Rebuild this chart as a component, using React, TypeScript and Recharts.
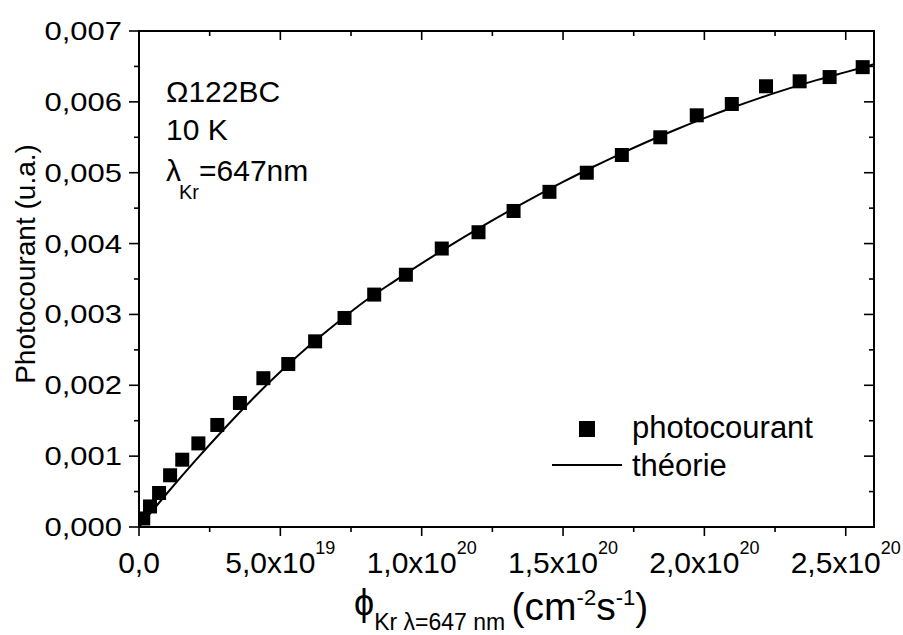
import React from 'react';
import {
    ComposedChart,
    Line,
    Scatter,
    XAxis,
    YAxis,
    ReferenceArea,
    Customized
} from 'recharts';

// x values are in units of 1e19 cm^-2 s^-1
const fluxPoints = [0.15, 0.39, 0.71, 1.10, 1.53, 2.10, 2.77, 3.57, 4.40, 5.28, 6.23, 7.27, 8.32, 9.44, 10.71, 12.01, 13.25, 14.52, 15.84, 17.08, 18.44, 19.73, 20.97, 22.18, 23.37, 24.43, 25.60];
const photocourant = [0.00012, 0.00029, 0.00048, 0.00073, 0.00095, 0.00118, 0.00144, 0.00175, 0.00210, 0.00230, 0.00262, 0.00295, 0.00328, 0.00356, 0.00393, 0.00416, 0.00446, 0.00473, 0.00500, 0.00525, 0.00550, 0.00581, 0.00597, 0.00622, 0.00629, 0.00635, 0.00649];

const fluxTheory = [0, 1, 2, 3, 4, 5, 6, 7, 8, 9, 10, 11, 12, 13, 14, 15, 16, 17, 18, 19, 20, 21, 22, 23, 24, 25, 26];
const theorie = [0, 0.00048, 0.00094, 0.00138, 0.00180, 0.00219, 0.00255, 0.00288, 0.00319, 0.00346, 0.00372, 0.00397, 0.00421, 0.00444, 0.00466, 0.00487, 0.00507, 0.00526, 0.00544, 0.00561, 0.00577, 0.00592, 0.00606, 0.00619, 0.00631, 0.00642, 0.00653];

const xTicks = [0, 2.5, 5, 7.5, 10, 12.5, 15, 17.5, 20, 22.5, 25];
const xTickMantissa = ['0,0', '', '5,0x10', '', '1,0x10', '', '1,5x10', '', '2,0x10', '', '2,5x10'];
const xTickExponent = ['', '', '19', '', '20', '', '20', '', '20', '', '20'];

const yTicks = [0, 0.0005, 0.001, 0.0015, 0.002, 0.0025, 0.003, 0.0035, 0.004, 0.0045, 0.005, 0.0055, 0.006, 0.0065, 0.007];
const yTickLabels = ['0,000', '', '0,001', '', '0,002', '', '0,003', '', '0,004', '', '0,005', '', '0,006', '', '0,007'];

const W = 903;
const H = 635;
const M = { top: 31, right: 29, bottom: 0, left: 0 };
const Y_AXIS_W = 139;
const X_AXIS_H = 108;
const PLOT_TOP = M.top;
const PLOT_RIGHT = W - M.right;
const FONT = 'Liberation Sans, Arial, sans-serif';

const pointData = fluxPoints.map((x, i) => ({ x, y: photocourant[i] }));
const theoryData = fluxTheory.map((x, i) => ({ x, y: theorie[i] }));

const XTick = (props: any) => {
    const { x, y, index } = props;
    const major = index % 2 === 0;
    const len = major ? 9 : 5;
    return (
        <g>
            <line x1={x} y1={y} x2={x} y2={y + len} stroke="#000" strokeWidth={1.6} />
            <line x1={x} y1={PLOT_TOP} x2={x} y2={PLOT_TOP + len} stroke="#000" strokeWidth={1.6} />
            {major && (
                <text x={x} y={y + 46} textAnchor="middle" fontSize={30} fontFamily={FONT} fill="#000">
                    <tspan>{xTickMantissa[index]}</tspan>
                    {xTickExponent[index] && (
                        <tspan dy={-19} fontSize={18}>{xTickExponent[index]}</tspan>
                    )}
                </text>
            )}
        </g>
    );
};

const YTick = (props: any) => {
    const { x, y, index } = props;
    const major = index % 2 === 0;
    const len = major ? 10 : 5;
    return (
        <g>
            <line x1={x - len} y1={y} x2={x} y2={y} stroke="#000" strokeWidth={1.6} />
            <line x1={PLOT_RIGHT - len} y1={y} x2={PLOT_RIGHT} y2={y} stroke="#000" strokeWidth={1.6} />
            {major && (
                <g transform={`translate(${x - 17},${y + 9}) scale(1,0.83)`}>
                    <text x={0} y={0} textAnchor="end" fontSize={31} fontFamily={FONT} fill="#000">
                        {yTickLabels[index]}
                    </text>
                </g>
            )}
        </g>
    );
};

const Square = (props: any) => {
    const { cx, cy } = props;
    return <rect x={cx - 7} y={cy - 7} width={14} height={14} fill="#000" />;
};

const Decorations = () => (
    <g fontFamily={FONT} fill="#000">
        {/* sample notes */}
        <text x={166} y={102} fontSize={30}>Ω122BC</text>
        <text x={166} y={140} fontSize={30}>10 K</text>
        <text x={166} y={181} fontSize={30}>
            λ<tspan dx={-2} dy={18} fontSize={20}>Kr</tspan><tspan dy={-18}>=647nm</tspan>
        </text>

        {/* legend */}
        <rect x={579} y={421} width={16} height={16} fill="#000" />
        <text x={632} y={438} fontSize={31}>photocourant</text>
        <line x1={552} y1={465} x2={622} y2={465} stroke="#000" strokeWidth={2} />
        <text x={632} y={476} fontSize={31}>théorie</text>

        {/* axis titles */}
        <text x={25} y={264} fontSize={28} textAnchor="middle" transform="rotate(-90, 25, 264)" dominantBaseline="central">
            Photocourant (u.a.)
        </text>
        <text x={354} y={615} fontSize={36}>
            ϕ<tspan fontSize={23} dy={15}>Kr λ=647 nm </tspan>
            <tspan fontSize={39} dy={-10}>(cm</tspan>
            <tspan fontSize={22} dy={-15}>-2</tspan>
            <tspan fontSize={39} dy={15}>s</tspan>
            <tspan fontSize={22} dy={-15}>-1</tspan>
            <tspan fontSize={39} dy={15}>)</tspan>
        </text>
    </g>
);

export default function App() {
    return (
        <div style={{ position: 'absolute', left: 0, top: 0, width: W, height: H, background: '#fff' }}>
            <ComposedChart width={W} height={H} margin={M}>
                <XAxis
                    type="number"
                    dataKey="x"
                    domain={[0, 26]}
                    ticks={xTicks}
                    interval={0}
                    height={X_AXIS_H}
                    axisLine={false}
                    tickLine={false}
                    tickSize={0}
                    tickMargin={0}
                    tick={<XTick />}
                    allowDataOverflow
                />
                <YAxis
                    type="number"
                    dataKey="y"
                    domain={[0, 0.007]}
                    ticks={yTicks}
                    interval={0}
                    width={Y_AXIS_W}
                    axisLine={false}
                    tickLine={false}
                    tickSize={0}
                    tickMargin={0}
                    tick={<YTick />}
                    allowDataOverflow
                />
                <ReferenceArea x1={0} x2={26} y1={0} y2={0.007} fill="none" fillOpacity={0} stroke="#000" strokeWidth={2} />
                <Line
                    data={theoryData}
                    dataKey="y"
                    type="monotone"
                    stroke="#000"
                    strokeWidth={2}
                    dot={false}
                    activeDot={false}
                    isAnimationActive={false}
                />
                <Scatter data={pointData} dataKey="y" fill="#000" shape={<Square />} isAnimationActive={false} />
                <Customized component={Decorations} />
            </ComposedChart>
        </div>
    );
}
